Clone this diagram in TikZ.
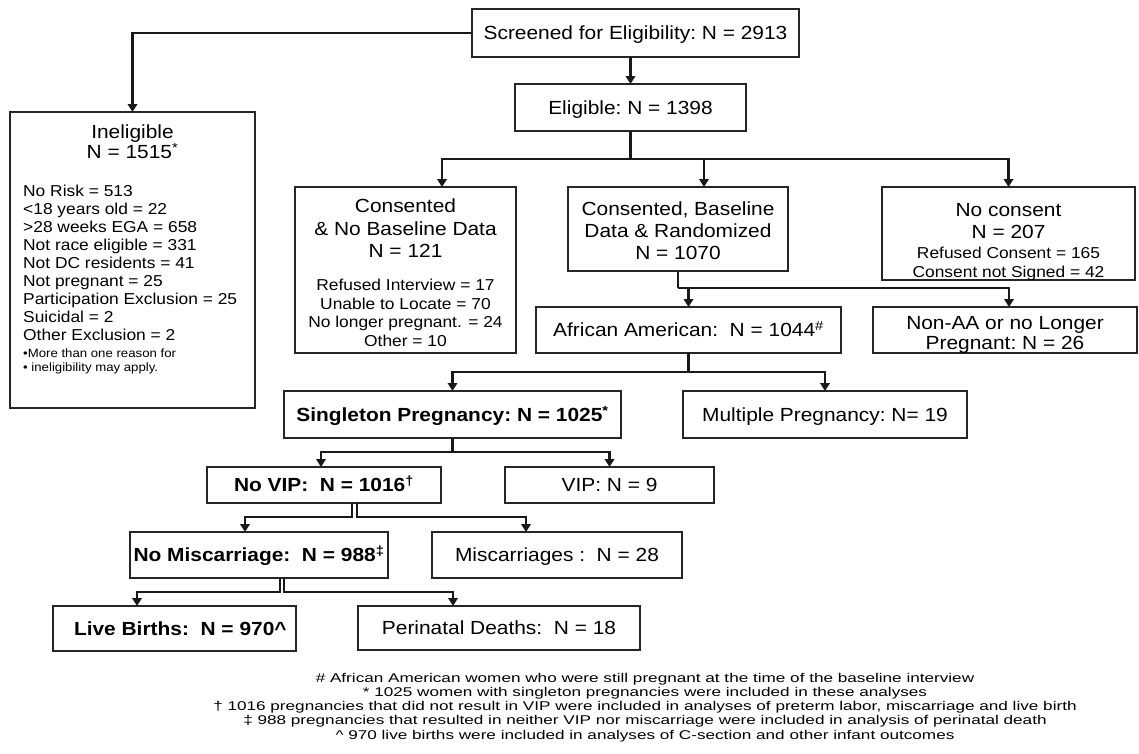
\documentclass[tikz,border=0pt]{standalone}
\usepackage{fontspec}
\setmainfont[FakeStretch=1.1]{Liberation Sans}
\newfontfamily\fnfont[FakeStretch=1.35]{Liberation Sans}
\usetikzlibrary{arrows.meta}
\begin{document}
\begin{tikzpicture}[x=1pt,y=-1pt,
  box/.style={draw=black!85, line width=1.7pt, inner sep=0pt, outer sep=0pt},
  lbl/.style={font=\fontsize{19}{22}\selectfont, text height=13.6pt, text depth=0pt},
  blbl/.style={font=\bfseries\fontsize{19}{22}\selectfont, text height=13.6pt, text depth=0pt},
  ln/.style={font=\fontsize{19}{22}\selectfont, inner sep=0pt, anchor=base},
  sm/.style={font=\fontsize{15.8}{18}\selectfont, inner sep=0pt, anchor=base},
  smw/.style={font=\fontsize{15.8}{18}\selectfont, inner sep=0pt, anchor=base west},
  tiny/.style={font=\fontsize{12}{14}\selectfont, inner sep=0pt, anchor=base west},
  fn/.style={font=\fnfont\fontsize{12.7}{14}\selectfont, inner sep=0pt, anchor=base},
  conn/.style={draw=black!90, line width=2.2pt},
  arr/.style={conn, -{Triangle[width=9.5pt,length=8pt]}}
]
\useasboundingbox (0,0) rectangle (1139,753);

% ---------- boxes ----------
\node[box, lbl, minimum width=327pt, minimum height=48pt] (scr) at (635.5,33) {Screened for Eligibility:\ N = 2913};
\node[box, lbl, minimum width=231pt, minimum height=47pt] (elig) at (630.5,107.5) {Eligible:\ N = 1398};
\node[box, minimum width=245pt, minimum height=296pt] (inel) at (132.5,260) {};
\node[box, minimum width=221pt, minimum height=166pt] (nob) at (405.5,270) {};
\node[box, minimum width=220pt, minimum height=84pt] (cb) at (678,229) {};
\node[box, minimum width=253pt, minimum height=93pt] (nc) at (1008.5,233.5) {};
\node[box, lbl, minimum width=305pt, minimum height=46pt] (aa) at (688.5,330) {African American:\ \ N = 1044\textsuperscript{\#}};
\node[box, minimum width=264pt, minimum height=46pt] (nonaa) at (1005,330) {};
\node[box, blbl, minimum width=337pt, minimum height=47pt] (sing) at (452.5,414.5) {Singleton Pregnancy:\ N = 1025\textsuperscript{*}};
\node[box, lbl, minimum width=284pt, minimum height=47pt] (mult) at (825,414.5) {Multiple Pregnancy:\ N= 19};
\node[box, blbl, minimum width=234pt, minimum height=36pt] (novip) at (324,485) {No VIP:\ \ N = 1016\textsuperscript{\dag}};
\node[box, lbl, minimum width=209pt, minimum height=36pt] (vip) at (609.5,485) {VIP: N = 9};
\node[box, blbl, minimum width=258pt, minimum height=46pt] (nomisc) at (259,555) {No Miscarriage:\ \ N = 988\textsuperscript{\ddag}};
\node[box, lbl, minimum width=250pt, minimum height=46pt] (misc) at (557,555) {Miscarriages :\ \ N = 28};
\node[box, blbl, minimum width=243pt, minimum height=45pt] (live) at (174.5,628.5) {\ \ Live Births:\ \ N = 970\textasciicircum};
\node[box, lbl, minimum width=282pt, minimum height=44pt] (peri) at (499,628) {Perinatal Deaths:\ \ N = 18};

% ---------- texts in multi-line boxes ----------
\node[ln] (inelA) at (132.5,138.8) {Ineligible};
\node[ln] (inelB) at (132.5,158.8) {N = 1515\textsuperscript{*}};
\foreach \t [count=\i] in {No Risk = 513, <18 years old = 22, >28 weeks EGA = 658, Not race eligible = 331, Not DC residents = 41, Not pregnant = 25, Participation Exclusion = 25, Suicidal = 2, Other Exclusion = 2}
  \node[smw] (inl\i) at (23,{196+18.1*(\i-1)}) {\t};
\node[tiny] (inlN1) at (23,357) {•More than one reason for};
\node[tiny] (inlN2) at (23,371) {• ineligibility may apply.};

\node[ln] (nobA) at (405.5,212) {Consented};
\node[ln] (nobB) at (405.5,235) {\& No Baseline Data};
\node[ln] (nobC) at (405.5,257) {N = 121};
\node[sm] (nobD) at (405.5,290.5) {Refused Interview = 17};
\node[sm] (nobE) at (405.5,309) {Unable to Locate = 70};
\node[sm] (nobF) at (405.5,327.5) {No longer pregnant. = 24};
\node[sm] (nobG) at (405.5,346) {Other = 10};

\node[ln] (cbA) at (678,215) {Consented,\ Baseline};
\node[ln] (cbB) at (678,237) {Data \& Randomized};
\node[ln] (cbC) at (678,259) {N = 1070};

\node[ln] (ncA) at (1008.5,216) {No consent};
\node[ln] (ncB) at (1008.5,238) {N = 207};
\node[sm] (ncC) at (1008.5,258) {Refused Consent = 165};
\node[sm] (ncD) at (1008.5,277) {Consent not Signed = 42};

\node[ln] (nonA) at (1005,329) {Non-AA or no Longer};
\node[ln] (nonB) at (1005,349) {Pregnant:\ N = 26};

% ---------- connectors ----------
\coordinate (j1) at (630.5,159);
\coordinate (j2) at (678,288);
\coordinate (j3) at (688.5,372);
\coordinate (j4) at (452.5,452);
\coordinate (j5a) at (352,517);
\coordinate (j5b) at (357,517);
\coordinate (j6a) at (280,592);
\coordinate (j6b) at (284,592);
\coordinate (tnob) at ([xshift=36.5pt]nob.north);
\coordinate (tcb) at ([xshift=26pt]cb.north);
\coordinate (tnon) at ([xshift=4pt]nonaa.north);
\coordinate (tnovip) at ([xshift=-3pt]novip.north);
\coordinate (tnomisc) at ([xshift=-14pt]nomisc.north);
\coordinate (tmisc) at ([xshift=-31pt]misc.north);
\coordinate (tlive) at ([xshift=-37.5pt]live.north);
\coordinate (tperi) at ([xshift=-46pt]peri.north);
\coordinate (s5a) at ([xshift=28pt]novip.south);
\coordinate (s5b) at ([xshift=33pt]novip.south);
\coordinate (s6a) at ([xshift=21pt]nomisc.south);
\coordinate (s6b) at ([xshift=25pt]nomisc.south);

\draw[arr] (scr.west) -| (inel.north);
\draw[arr] (scr.south -| elig.north) -- (elig.north);
\draw[conn] (elig.south) -- (j1);
\draw[arr] (j1) -| (tnob);
\draw[arr] (j1) -| (nc.north);
\draw[arr] (tcb |- j1) -- (tcb);
\draw[conn] (cb.south) -- (j2);
\draw[arr] (j2) -| (tnon);
\draw[arr] (aa.north |- j2) -- (aa.north);
\draw[conn] (aa.south) -- (j3);
\draw[arr] (j3) -| (sing.north);
\draw[arr] (j3) -| (mult.north);
\draw[conn] (sing.south) -- (j4);
\draw[arr] (j4) -| (tnovip);
\draw[arr] (j4) -| (vip.north);
\draw[arr] (s5a) -- (j5a) -| (tnomisc);
\draw[arr] (s5b) -- (j5b) -| (tmisc);
\draw[arr] (s6a) -- (j6a) -| (tlive);
\draw[arr] (s6b) -- (j6b) -| (tperi);

% ---------- footnotes ----------
\node[fn] (fn1) at (645,682) {\# African American women who were still pregnant at the time of the baseline interview};
\node[fn] (fn2) at (645,696.3) {* 1025 women with singleton pregnancies were included in these analyses};
\node[fn] (fn3) at (645,710.6) {† 1016 pregnancies that did not result in VIP were included in analyses of preterm labor, miscarriage and live birth};
\node[fn] (fn4) at (645,724.9) {‡ 988 pregnancies that resulted in neither VIP nor miscarriage were included in analysis of perinatal death};
\node[fn] (fn5) at (645,739.2) {\textasciicircum\ 970 live births were included in analyses of C-section and other infant outcomes};
\end{tikzpicture}
\end{document}
